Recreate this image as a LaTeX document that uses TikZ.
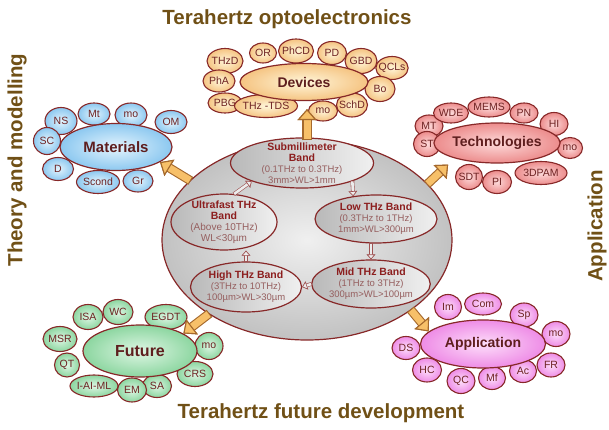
\documentclass[tikz,border=0pt]{standalone}
\usepackage{fontspec}
\setmainfont{Liberation Sans}
\usetikzlibrary{shapes.geometric,arrows.meta}

\definecolor{rim}{RGB}{135,40,40}
\definecolor{ink}{RGB}{110,35,35}
\definecolor{headline}{RGB}{112,80,22}
\definecolor{bandink}{RGB}{140,30,30}
\definecolor{bandtext}{RGB}{150,95,95}
\definecolor{arrowfill}{RGB}{247,192,105}
\definecolor{arrowline}{RGB}{165,105,45}
\definecolor{devin}{RGB}{255,246,218}
\definecolor{devout}{RGB}{245,196,130}
\definecolor{matin}{RGB}{228,244,253}
\definecolor{matout}{RGB}{140,200,240}
\definecolor{tecin}{RGB}{253,218,218}
\definecolor{tecout}{RGB}{236,140,140}
\definecolor{futin}{RGB}{222,246,228}
\definecolor{futout}{RGB}{140,214,160}
\definecolor{appin}{RGB}{253,222,250}
\definecolor{appout}{RGB}{238,140,230}

\newcommand{\bandhead}[1]{{\bfseries\fontsize{10.5}{11}\selectfont\color{bandink}#1}}

\begin{document}
\begin{tikzpicture}[x=1pt,y=-1pt,
  sz/.style 2 args={minimum width=#1pt,minimum height=#2pt},
  sat/.style={ellipse,draw=rim,line width=1.1pt,inner xsep=-2pt,inner ysep=0pt,
    text=ink,font=\fontsize{10.5}{12}\selectfont},
  hub/.style={ellipse,draw=rim,line width=1.2pt,inner sep=0pt,text=ink!85!black,
    font=\bfseries\fontsize{14}{15}\selectfont},
  dev/.style={sat,inner color=devin,outer color=devout},
  mat/.style={sat,inner color=matin,outer color=matout},
  tec/.style={sat,inner color=tecin,outer color=tecout},
  fut/.style={sat,inner color=futin,outer color=futout},
  app/.style={sat,inner color=appin,outer color=appout},
  core/.style={ellipse,draw=rim,line width=1.2pt,sz={290}{200},
    inner color=gray!12,outer color=gray!48},
  band/.style={ellipse,draw=rim,line width=1.2pt,inner xsep=0pt,inner ysep=-5pt,
    left color=gray!55,right color=gray!12,align=center,text=bandtext,
    font=\fontsize{9.5}{11}\selectfont},
  bigarrow/.style={line width=7pt,draw=arrowfill,
    -{Triangle[length=11pt,width=19pt,line width=1.1pt,color=arrowline,fill=arrowfill]},
    preaction={draw=arrowline,line width=9.2pt,shorten <=-1.1pt}},
  bandarrow/.style={line width=2.6pt,draw=gray!15,
    -{Triangle[length=5pt,width=8.5pt,line width=.6pt,color=rim!80,fill=gray!15]},
    preaction={draw=rim!80,line width=3.8pt,shorten <=-.6pt}},
  headline/.style={text=headline,inner sep=0pt,font=\bfseries\fontsize{20.5}{22}\selectfont}]
  \useasboundingbox (0,0) rectangle (609,430);

  % Bands in the middle
  \node[core] (core) at (307,240) {};
  \node[band,sz={143}{50}] (sub) at (302,163)
    {\bandhead{Submillimeter}\\\bandhead{Band}\\(0.1THz to 0.3THz)\\3mm>WL>1mm};
  \node[band,sz={106}{56},font=\fontsize{10}{11}\selectfont] (ultra) at (224,222)
    {\bandhead{Ultrafast THz}\\\bandhead{Band}\\(Above 10THz)\\WL<30µm};
  \node[band,sz={122}{48}] (low) at (376,219)
    {\bandhead{Low THz Band}\\(0.3THz to 1THz)\\1mm>WL>300µm};
  \node[band,sz={108}{50}] (high) at (246,287)
    {\bandhead{High THz Band}\\(3THz to 10THz)\\100µm>WL>30µm};
  \node[band,sz={114}{48}] (mid) at (371,284)
    {\bandhead{Mid THz Band}\\(1THz to 3THz)\\300µm>WL>100µm};
  \draw[bandarrow] (sub.-20) -- (low.135);
  \draw[bandarrow] (low.south -| mid.north) -- (mid.north);
  \draw[bandarrow] (mid.west) -- (high.east);
  \draw[bandarrow] (high.north) -- (high.north |- ultra.south);
  \draw[bandarrow] (ultra.70) -- (sub.200);

  % Devices
  \node[dev,sz={36}{25}] (thzd) at (225,61) {THzD};
  \node[dev,sz={27}{20}] (or) at (263,53) {OR};
  \node[dev,sz={35}{24}] (phcd) at (296,51) {PhCD};
  \node[dev,sz={29}{23}] (pd) at (332,53) {PD};
  \node[dev,sz={32}{25}] (gbd) at (361,61) {GBD};
  \node[dev,sz={31}{23}] (qcls) at (392,68) {QCLs};
  \node[dev,sz={30}{25}] (bo) at (380,89) {Bo};
  \node[dev,sz={32}{22}] (pha) at (219,81) {PhA};
  \node[dev,sz={34}{20}] (pbg) at (225,103) {PBG};
  \node[dev,sz={63}{23}] (tds) at (266,106) {THz -TDS};
  \node[dev,sz={29}{20}] (devmo) at (323,111) {mo};
  \node[dev,sz={31}{24}] (schd) at (352,105) {SchD};
  \node[hub,sz={128}{37},inner color=devin,outer color=devout] (dev) at (304,82) {Devices};

  % Materials
  \node[mat,sz={32}{27}] (ns) at (61,121) {NS};
  \node[mat,sz={32}{22}] (matmt) at (94,114) {Mt};
  \node[mat,sz={32}{24}] (matmo) at (131,115) {mo};
  \node[mat,sz={32}{23}] (om) at (171,122) {OM};
  \node[mat,sz={27}{27}] (sc) at (47,141) {SC};
  \node[mat,sz={31}{23}] (dia) at (58,169) {D};
  \node[mat,sz={43}{23}] (scond) at (98,182) {Scond};
  \node[mat,sz={30}{22}] (gr) at (138,181) {Gr};
  \node[hub,sz={112}{47},inner color=matin,outer color=matout,
    font=\bfseries\fontsize{15}{16}\selectfont] (mat) at (116,147) {Materials};

  % Technologies
  \node[tec,sz={28}{22}] (tecmt) at (429,126) {MT};
  \node[tec,sz={35}{20}] (wde) at (451,113) {WDE};
  \node[tec,sz={42}{20}] (mems) at (489,107) {MEMS};
  \node[tec,sz={28}{20}] (pn) at (524,113) {PN};
  \node[tec,sz={28}{23}] (hi) at (554,124) {HI};
  \node[tec,sz={27}{25}] (st) at (427,144) {ST};
  \node[tec,sz={25}{21}] (tecmo) at (570,148) {mo};
  \node[tec,sz={27}{25}] (sdt) at (469,177) {SDT};
  \node[tec,sz={29}{23}] (tecpi) at (497,182) {PI};
  \node[tec,sz={52}{23}] (dpam) at (541,173) {3DPAM};
  \node[hub,sz={119}{40},inner color=tecin,outer color=tecout] (tech) at (497,143) {Technologies};

  % Future
  \node[fut,sz={30}{25}] (isa) at (88,317) {ISA};
  \node[fut,sz={30}{25}] (wc) at (118,312) {WC};
  \node[fut,sz={42}{25}] (egdt) at (166,317) {EGDT};
  \node[fut,sz={34}{25}] (msr) at (60,339) {MSR};
  \node[fut,sz={28}{27}] (futmo) at (209,346) {mo};
  \node[fut,sz={25}{24}] (qt) at (67,365) {QT};
  \node[fut,sz={36}{25}] (crs) at (195,374) {CRS};
  \node[fut,sz={48}{22}] (iaiml) at (94,386) {I-AI-ML};
  \node[fut,sz={29}{23}] (sa) at (157,386) {SA};
  \node[fut,sz={29}{24}] (em) at (132,390) {EM};
  \node[hub,sz={114}{52},inner color=futin,outer color=futout,
    font=\bfseries\fontsize{16}{17}\selectfont] (fut) at (140,351) {Future};

  % Application
  \node[app,sz={27}{25}] (im) at (448,307) {Im};
  \node[app,sz={37}{22}] (com) at (483,304) {Com};
  \node[app,sz={28}{24}] (sp) at (524,315) {Sp};
  \node[app,sz={28}{25}] (appmo) at (556,334) {mo};
  \node[app,sz={28}{23}] (ds) at (406,348) {DS};
  \node[app,sz={28}{24}] (fr) at (551,365) {FR};
  \node[app,sz={29}{24}] (hc) at (427,370) {HC};
  \node[app,sz={28}{25}] (qc) at (461,381) {QC};
  \node[app,sz={27}{23}] (mf) at (492,378) {Mf};
  \node[app,sz={27}{23}] (ac) at (523,371) {Ac};
  \node[hub,sz={125}{48},inner color=appin,outer color=appout] (app) at (483,344) {Application};

  % Arrows out of the middle
  \draw[bigarrow,shorten >=8pt] (core.north) -- (core.north |- dev.south);
  \draw[bigarrow] (core.153) -- (mat.-19);
  \draw[bigarrow,shorten >=9pt] (core.25) -- (tech.200);
  \draw[bigarrow] (core.217) -- (fut.22);
  \draw[bigarrow] (core.-34) -- (app.167);

  % Headlines
  \node[headline] (toptitle) at (287,19) {Terahertz optoelectronics};
  \node[headline] (bottomtitle) at (321,413) {Terahertz future development};
  \node[headline,rotate=90] (lefttitle) at (17,160) {Theory and modelling};
  \node[headline,rotate=90] (righttitle) at (597,226) {Application};
\end{tikzpicture}
\end{document}
